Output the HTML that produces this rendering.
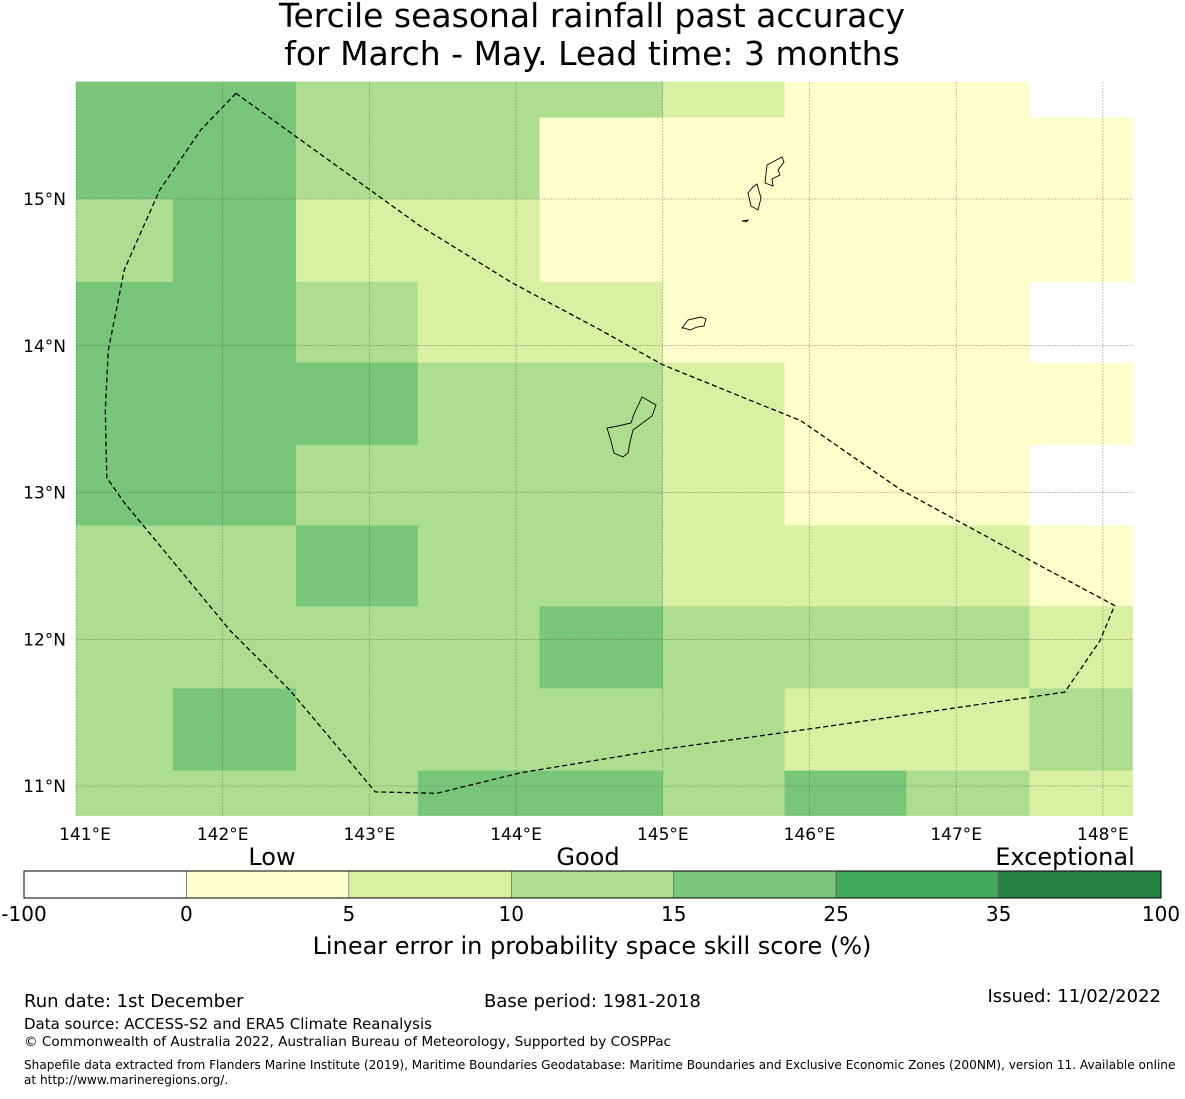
<!DOCTYPE html>
<html><head><meta charset="utf-8"><style>
body{margin:0;background:#fff;width:1185px;height:1095px;overflow:hidden;font-family:"DejaVu Sans","Liberation Sans",sans-serif;}
svg text{font-family:"DejaVu Sans","Liberation Sans",sans-serif;fill:#000}
</style></head><body>
<svg id="chart" width="1185" height="1095" xmlns="http://www.w3.org/2000/svg">
<text x="592" y="27" font-size="33" text-anchor="middle">Tercile seasonal rainfall past accuracy</text>
<text x="592" y="65" font-size="33" text-anchor="middle">for March - May. Lead time: 3 months</text>
<g id="cells"></g>
<g id="grid"></g>
<g id="islands" fill="none" stroke="#000" stroke-width="0.9">
<path d="M642,397 L656,405 L652,416 L633,430 L630,442 L628,453 L623,457 L614,453 L611,441 L607,428 L618,426 L631,423 L634,414 Z"/>
<path d="M682,328 L688,320 L701,317 L706,319 L704,326 L697,327 L690,330 L684,328 Z"/>
<path d="M757,184 L761,198 L758,210 L751,206 L748,193 L753,187 Z"/>
<path d="M767,165 L782,157 L784,162 L778,170 L780,175 L772,179 L773,186 L765,183 Z"/>
<path d="M742,221 L748,220 L746,222 Z"/>
</g>
<path id="eez" fill="none" stroke="#000" stroke-width="1.3" stroke-dasharray="5,3"/>
<g id="axes"></g>
<g id="cbar"></g>
<text x="272" y="865" font-size="24" text-anchor="middle">Low</text>
<text x="588" y="865" font-size="24" text-anchor="middle">Good</text>
<text x="1065" y="865" font-size="24" text-anchor="middle">Exceptional</text>
<text x="592" y="954" font-size="24" text-anchor="middle">Linear error in probability space skill score (%)</text>
<text x="24" y="1007" font-size="18">Run date: 1st December</text>
<text x="484" y="1007" font-size="18">Base period: 1981-2018</text>
<text x="1161" y="1002" font-size="18" text-anchor="end">Issued: 11/02/2022</text>
<text x="24" y="1029" font-size="15">Data source: ACCESS-S2 and ERA5 Climate Reanalysis</text>
<text x="24" y="1046" font-size="13.6">© Commonwealth of Australia 2022, Australian Bureau of Meteorology, Supported by COSPPac</text>
<text x="24" y="1069" font-size="12.1">Shapefile data extracted from Flanders Marine Institute (2019), Maritime Boundaries Geodatabase: Maritime Boundaries and Exclusive Economic Zones (200NM), version 11. Available online</text>
<text x="24" y="1084" font-size="12.1">at http://www.marineregions.org/.</text>
</svg>
<script>
const colEdges=[141.0,141.66,142.5,143.33,144.16,145.0,145.83,146.66,147.5,148.2];
const rowEdges=[15.8,15.555,15.0,14.435,13.885,13.325,12.775,12.225,11.665,11.105,10.8];
const skillRows=[
[20,20,12.5,12.5,12.5,7.5,2.5,2.5,-10],
[20,20,12.5,12.5,2.5,2.5,2.5,2.5,2.5],
[12.5,20,7.5,7.5,2.5,2.5,2.5,2.5,2.5],
[20,20,12.5,7.5,7.5,2.5,2.5,2.5,-10],
[20,20,20,12.5,12.5,7.5,2.5,2.5,2.5],
[20,20,12.5,12.5,12.5,7.5,2.5,2.5,-10],
[12.5,12.5,20,12.5,12.5,7.5,7.5,7.5,2.5],
[12.5,12.5,12.5,12.5,20,12.5,12.5,12.5,7.5],
[12.5,20,12.5,12.5,12.5,12.5,7.5,7.5,12.5],
[12.5,12.5,12.5,20,20,12.5,20,12.5,7.5]];
const levels=[-100,0,5,10,15,25,35,100];
const levelColors=['#ffffff','#ffffcc','#d9f0a3','#addd8e','#78c679','#41ab5d','#238443'];
const eezLon=[142.09,141.85,141.57,141.33,141.22,141.20,141.21,141.33,141.57,142.05,142.46,143.04,143.46,144.03,145.0,145.94,147.74,147.98,148.08,147.50,146.62,145.94,145.59,145.0,144.57,143.97,143.34,142.09];
const eezLat=[15.72,15.47,15.06,14.52,13.97,13.56,13.10,12.93,12.64,12.06,11.65,10.96,10.95,11.09,11.25,11.38,11.64,11.99,12.23,12.54,13.02,13.49,13.63,13.87,14.11,14.43,14.82,15.72];
const lonTicks=[141,142,143,144,145,146,147,148];
const latTicks=[15,14,13,12,11];
const cbarTicks=['-100','0','5','10','15','25','35','100'];
const NS='http://www.w3.org/2000/svg';
const X=lon=>76+(lon-141)*146.7;
const Y=lat=>199+(15-lat)*146.75;
function mk(t,a,p){const e=document.createElementNS(NS,t);for(const k in a)e.setAttribute(k,a[k]);p.appendChild(e);return e;}
function colorFor(v){for(let i=0;i<levels.length-1;i++)if(v<levels[i+1])return levelColors[i];return levelColors[levelColors.length-1];}
const cells=document.getElementById('cells');
skillRows.forEach((row,r)=>row.forEach((v,c)=>{
 const x0=X(colEdges[c]),x1=X(colEdges[c+1]),y0=Y(rowEdges[r]),y1=Y(rowEdges[r+1]);
 const e=mk('rect',{x:x0,y:y0,width:x1-x0+0.5,height:y1-y0+0.5,fill:colorFor(v)},cells);
 
 
}));
const grid=document.getElementById('grid');
const ax=document.getElementById('axes');
lonTicks.forEach(l=>{
 const g=mk('line',{x1:X(l),x2:X(l),y1:82,y2:816,stroke:'#555','stroke-width':0.5,'stroke-dasharray':'2,1','stroke-opacity':0.7},grid);
 
 
 const t=mk('text',{x:X(l)+(l==141?9:0),y:840,'font-size':17,'text-anchor':'middle'},ax);
 t.textContent=l+'°E';
 
 
});
latTicks.forEach(l=>{
 const g=mk('line',{x1:76,x2:1133,y1:Y(l),y2:Y(l),stroke:'#555','stroke-width':0.5,'stroke-dasharray':'2,1','stroke-opacity':0.7},grid);
 
 
 const t=mk('text',{x:66,y:Y(l)+6,'font-size':17,'text-anchor':'end'},ax);
 t.textContent=l+'°N';
 
 
});
document.getElementById('eez').setAttribute('d',eezLon.map((l,i)=>(i?'L':'M')+X(l).toFixed(1)+','+Y(eezLat[i]).toFixed(1)).join(' '));
const cb=document.getElementById('cbar');
const segW=(1161-24)/levelColors.length;
levelColors.forEach((c,i)=>{
 const e=mk('rect',{x:24+i*segW,y:871,width:segW,height:27,fill:c,stroke:'#555','stroke-width':0.6},cb);
 
 
});
mk('rect',{x:24,y:871,width:1137,height:27,fill:'none',stroke:'#000','stroke-width':1},cb);
cbarTicks.forEach((t,i)=>{
 const e=mk('text',{x:24+i*segW,y:921,'font-size':20,'text-anchor':'middle'},cb);
 e.textContent=t;
 
 
});
</script>
</body></html>
